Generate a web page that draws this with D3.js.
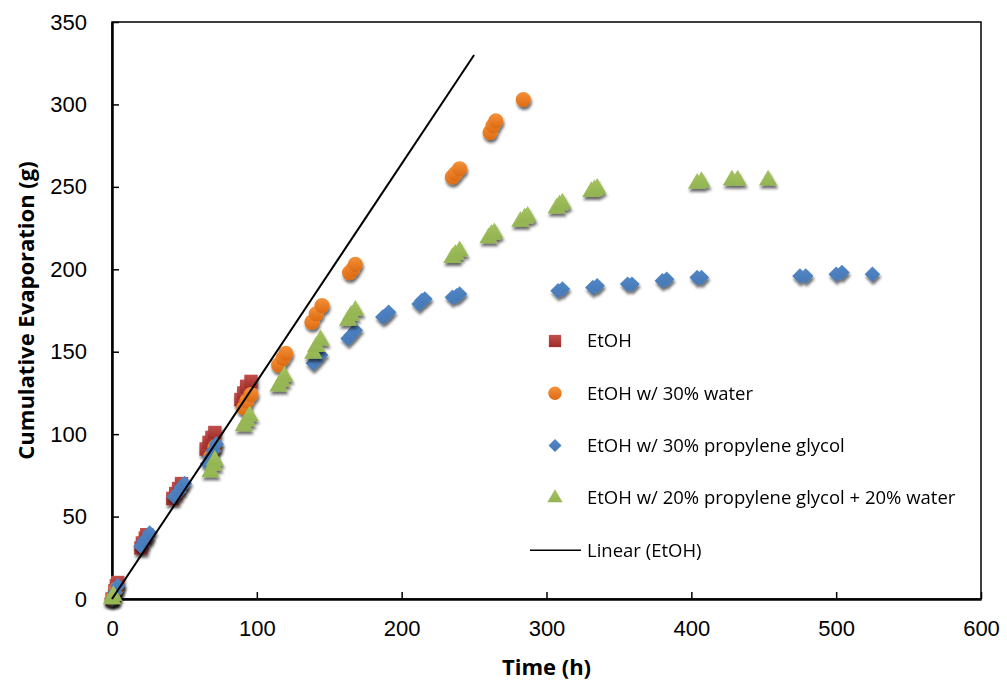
<!DOCTYPE html>
<html>
<head>
<meta charset="utf-8">
<script src="https://cdn.jsdelivr.net/npm/d3@7/dist/d3.min.js"></script>
<style>
  html, body { margin: 0; padding: 0; background: #fff; }
  svg { display: block; font-family: "Open Sans", "Liberation Sans", sans-serif; }
</style>
</head>
<body>
<svg id="chart"></svg>
<script>
'use strict';

// --- data (time in h, cumulative evaporation in g)
var etoh = [[0,0],[2,5],[3,8],[4,10],[20,31],[21,34],[23,37],[24,39],[42,61],[44,64],[46,67],[48,70],
            [65,91],[67,95],[69,98],[71,101],[89,121],[91,125],[93,129],[96,132]];
var etohWater = [[0,0],[3,6],[68,86],[71,92],[91,116],[93,120],[96,124],[115,142],[118,146],[120,149],
                 [138,168],[141,173],[145,178],[164,198],[166,200],[168,203],[235,256],[237,258],[240,261],
                 [261,283],[263,287],[265,290],[284,303]];
var etohPG = [[0,0],[2,4],[4,8],[20,32],[22,35],[24,37],[26,40],[43,62],[46,65],[48,68],[50,70],
              [66,82],[68,86],[70,90],[72,94],[139,143],[141,145],[144,148],[163,158],[165,160],[168,163],
              [187,171],[189,172],[191,174],[212,179],[214,181],[216,182],[235,183],[238,184],[240,185],
              [308,187],[311,188],[332,189],[335,190],[356,191],[359,191],[380,193],[383,194],[404,195],
              [407,195],[475,196],[479,196],[500,197],[504,198],[525,197]];
var etohPGWater = [[0,0],[1,2],[68,77],[70,81],[71,84],[91,105],[93,108],[95,111],[115,129],[117,132],
                   [119,135],[139,149],[141,153],[144,157],[163,169],[165,172],[168,175],[235,207],[237,209],
                   [240,211],[260,219],[262,221],[264,222],[282,229],[285,231],[287,232],[307,237],[309,239],
                   [311,240],[331,247],[333,248],[335,249],[404,252],[407,253],[428,254],[432,254],[453,254]];
var trendEtOH = [[0,0],[250,330]];

var seriesNames = ["EtOH", "EtOH w/ 30% water", "EtOH w/ 30% propylene glycol",
                   "EtOH w/ 20% propylene glycol + 20% water"];
var trendName = "Linear (EtOH)";
var xTicks = [0, 100, 200, 300, 400, 500, 600];
var yTicks = [0, 50, 100, 150, 200, 250, 300, 350];

var diamond = {
    draw: function(ctx, size) {
        var r = Math.sqrt(size / 2);
        ctx.moveTo(0, -r); ctx.lineTo(r, 0); ctx.lineTo(0, r); ctx.lineTo(-r, 0); ctx.closePath();
    }
};

function scatter_chart(cfg) {
    var config = Object.assign({
        width: 1007,
        height: 690,
        xDomain: [0, 600],
        yDomain: [0, 350],
        series: [],
        trend: null
    }, cfg);

    var margin = {top: 22, right: 26, bottom: 91, left: 112},
        width  = config.width - margin.left - margin.right,
        height = config.height - margin.top - margin.bottom;

    var chart = d3.select("#chart")
        .attr("width", config.width)
        .attr("height", config.height);

    var defs = chart.append("defs");

    // drop shadow like the office markers
    var f = defs.append("filter").attr("id", "shadow")
        .attr("x", "-60%").attr("y", "-60%").attr("width", "220%").attr("height", "220%");
    f.append("feGaussianBlur").attr("in", "SourceAlpha").attr("stdDeviation", 1.7);
    f.append("feOffset").attr("dx", 1).attr("dy", 3).attr("result", "off");
    f.append("feComponentTransfer").call(function(c){
        c.append("feFuncA").attr("type", "linear").attr("slope", 0.6);
    });
    var m = f.append("feMerge");
    m.append("feMergeNode");
    m.append("feMergeNode").attr("in", "SourceGraphic");

    config.series.forEach(function(s, i){
        var g = defs.append("linearGradient").attr("id", "grad" + i)
            .attr("x1", 0).attr("y1", 0).attr("x2", 0).attr("y2", 1);
        g.append("stop").attr("offset", "0%").attr("stop-color", s.light);
        g.append("stop").attr("offset", "100%").attr("stop-color", s.dark);
    });

    var xScale = d3.scaleLinear().domain(config.xDomain).range([0, width]),
        yScale = d3.scaleLinear().domain(config.yDomain).range([height, 0]);

    var xAxis = d3.axisBottom(xScale).tickValues(xTicks).tickSizeInner(-7).tickSizeOuter(0).tickPadding(21),
        yAxis = d3.axisLeft(yScale).tickValues(yTicks).tickSizeInner(-7).tickSizeOuter(0).tickPadding(25);

    var board = chart.append("g")
        .attr("transform", "translate(" + margin.left + "," + margin.top + ")");

    // plot frame
    board.append("rect")
        .attr("width", width).attr("height", height)
        .attr("fill", "none").attr("stroke", "#000").attr("stroke-width", 1.5);

    var gx = board.append("g")
        .attr("transform", "translate(0," + height + ")")
        .call(xAxis);
    var gy = board.append("g").call(yAxis);

    [gx, gy].forEach(function(a){
        a.select(".domain").attr("stroke-width", 2.5);
        a.selectAll(".tick line").attr("stroke-width", 1.5);
        a.selectAll(".tick text").style("font-size", "22px").attr("fill", "#000");
    });

    // axis titles
    chart.append("text")
        .attr("x", margin.left + width / 2)
        .attr("y", 675)
        .attr("text-anchor", "middle")
        .style("font-size", "22px").style("font-weight", "bold")
        .text("Time (h)");
    chart.append("text")
        .attr("transform", "translate(34," + (margin.top + height / 2) + ") rotate(-90)")
        .attr("text-anchor", "middle")
        .style("font-size", "22px").style("font-weight", "bold")
        .text("Cumulative Evaporation (g)");

    // markers
    config.series.forEach(function(s, i){
        var sym = d3.symbol().type(s.shape).size(s.size);
        board.append("g")
            .attr("filter", "url(#shadow)")
            .selectAll("path")
            .data(s.data)
            .enter().append("path")
                .attr("transform", function(d){
                    return "translate(" + xScale(d[0]) + "," + yScale(d[1]) + ")";
                })
                .attr("fill", "url(#grad" + i + ")")
                .attr("d", sym);
    });

    // trendline on top
    if (config.trend) {
        var line = d3.line()
            .x(function(d){ return xScale(d[0]); })
            .y(function(d){ return yScale(d[1]); });
        board.append("path")
            .datum(config.trend)
            .attr("fill", "none")
            .attr("stroke", "#000")
            .attr("stroke-width", 2)
            .attr("d", line);
    }

    // legend
    var legend = chart.append("g").attr("transform", "translate(555,341)");
    config.series.forEach(function(s, i){
        var row = legend.append("g").attr("transform", "translate(0," + (i * 52.3) + ")");
        row.append("path")
            .attr("d", d3.symbol().type(s.shape).size(s.legendSize))
            .attr("fill", "url(#grad" + i + ")");
        row.append("text")
            .attr("x", 32).attr("dy", "0.35em")
            .style("font-size", "18.5px").attr("fill", "#000")
            .text(s.name);
    });
    var trow = legend.append("g").attr("transform", "translate(0," + (4 * 52.3) + ")");
    trow.append("line").attr("x1", -25).attr("x2", 26)
        .attr("stroke", "#000").attr("stroke-width", 1.5);
    trow.append("text").attr("x", 32).attr("dy", "0.35em")
        .style("font-size", "18.5px").attr("fill", "#000")
        .text(trendName);
}

scatter_chart({
    series: [
        {name: seriesNames[0], data: etoh, shape: d3.symbolSquare, size: 180, legendSize: 150,
         light: "#C2504D", dark: "#9E2D2A"},
        {name: seriesNames[1], data: etohWater, shape: d3.symbolCircle, size: 180, legendSize: 140,
         light: "#F5923A", dark: "#DC6A12"},
        {name: seriesNames[2], data: etohPG, shape: diamond, size: 120, legendSize: 85,
         light: "#5287C6", dark: "#4677B5"},
        {name: seriesNames[3], data: etohPGWater, shape: d3.symbolTriangle, size: 145, legendSize: 100,
         light: "#A2C35E", dark: "#93B451"}
    ],
    trend: trendEtOH
});
</script>
</body>
</html>
